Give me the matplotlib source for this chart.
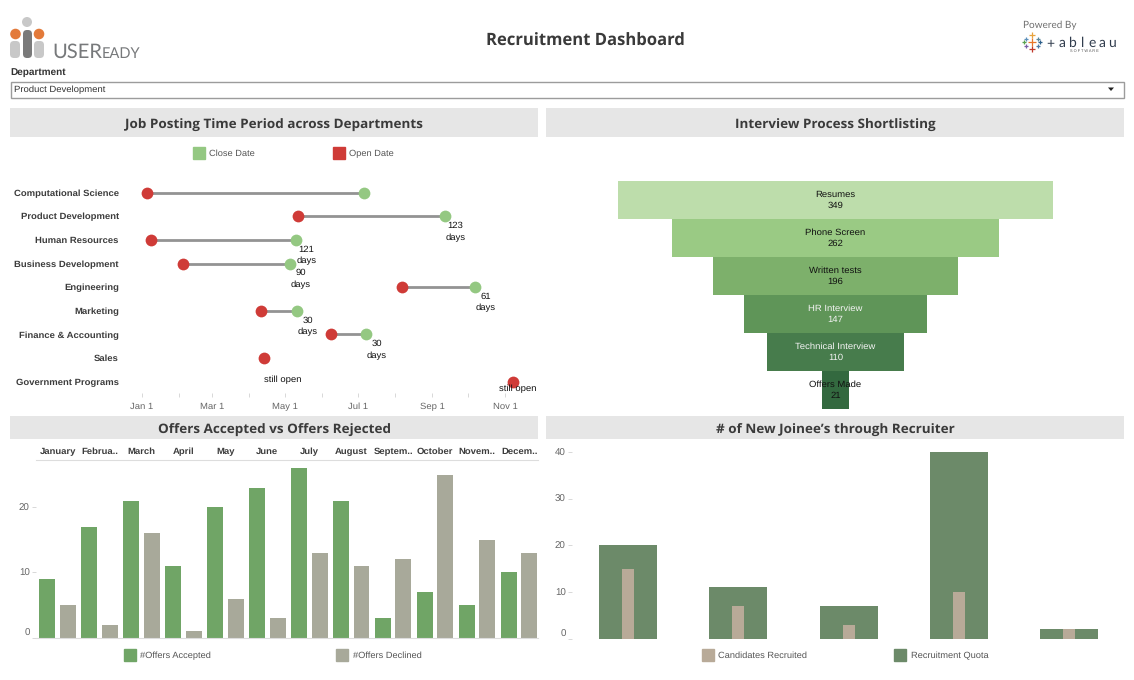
import matplotlib
matplotlib.use('Agg')
import matplotlib.pyplot as plt
from matplotlib.lines import Line2D
from matplotlib.patches import Rectangle, Circle, FancyBboxPatch, Polygon

plt.rcParams['font.family'] = ['Liberation Sans', 'DejaVu Sans']
plt.rcParams['font.size'] = 7
plt.rcParams['text.hinting'] = 'none'

W, H = 1134, 680

# job posting dates, as day of the year
departments = ['Computational Science', 'Product Development', 'Human Resources', 'Business Development',
               'Engineering', 'Marketing', 'Finance & Accounting', 'Sales', 'Government Programs']
open_day = [4, 131, 8, 34, 218, 100, 158, 102, 311]
close_day = [186, 254, 129, 124, 279, 130, 188, None, None]
duration_text = [None, '123\ndays', '121\ndays', '90\ndays', '61\ndays', '30\ndays', '30\ndays', None, None]
month_days = [0, 31, 59, 90, 120, 151, 181, 212, 243, 273, 304]
month_labels = ['Jan 1', '', 'Mar 1', '', 'May 1', '', 'Jul 1', '', 'Sep 1', '', 'Nov 1']

# funnel
stages = ['Resumes', 'Phone Screen', 'Written tests', 'HR Interview', 'Technical Interview', 'Offers Made']
stage_counts = [349, 262, 196, 147, 110, 21]
stage_colors = ['#BDDDAB', '#9ACA84', '#7DB06B', '#5F9558', '#477C4C', '#33693F']
stage_text = ['#111111', '#111111', '#111111', '#F4F4F4', '#F4F4F4', '#111111']

# offers
months = ['January', 'Februa..', 'March', 'April', 'May', 'June', 'July', 'August',
          'Septem..', 'October', 'Novem..', 'Decem..']
offers_accepted = [9, 17, 21, 11, 20, 23, 26, 21, 3, 7, 5, 10]
offers_declined = [5, 2, 16, 1, 6, 3, 13, 11, 12, 25, 15, 13]

# recruiters
recruitment_quota = [20, 11, 7, 40, 2]
candidates_recruited = [15, 7, 3, 10, 2]

RED = '#CF3B37'
GREEN = '#94C882'
TITLE_FONT = ['Open Sans', 'DejaVu Sans']


def px_axes(left, top, right, bottom, **kw):
    return fig.add_axes([left / W, 1 - bottom / H, (right - left) / W, (bottom - top) / H], **kw)


def square_legend(items, x, y, gap):
    handles = [Line2D([], [], ls='', marker='s', ms=9, color=c) for c, _ in items]
    labels = [t for _, t in items]
    fig.legend(handles, labels, loc='center left', bbox_to_anchor=(x / W, 1 - y / H), ncol=len(items),
               frameon=False, borderpad=0, borderaxespad=0, handlelength=1.4, handletextpad=0.45,
               columnspacing=gap, fontsize=6.7, labelcolor='#555555')


fig = plt.figure(figsize=(W / 100, H / 100), dpi=100, facecolor='white')

# page furniture (headers, filter box, logos)
page = px_axes(0, 0, W, H)
page.set_xlim(0, W)
page.set_ylim(H, 0)
page.axis('off')

for x0, y0, x1, y1, title in [(10, 108, 538, 137, 'Job Posting Time Period across Departments'),
                              (546, 108, 1124, 137, 'Interview Process Shortlisting'),
                              (10, 416, 538, 439, 'Offers Accepted vs Offers Rejected'),
                              (546, 416, 1124, 439, "# of New Joinee\u2019s through Recruiter")]:
    page.add_patch(Rectangle((x0, y0), x1 - x0, y1 - y0, color='#E6E6E6', lw=0))
    page.text((x0 + x1) / 2, (y0 + y1) / 2 + 2.5, title, ha='center', va='center', fontsize=9.7, fontweight='bold',
              family=TITLE_FONT, color='#3A3A3A')

page.text(585, 41, 'Recruitment Dashboard', ha='center', va='center', fontsize=12, fontweight='bold',
          family=TITLE_FONT, color='#3A3A3A')
page.text(10, 72, 'Department', ha='left', va='center', fontsize=7.2, fontweight='bold', color='#333333')
page.add_patch(Rectangle((11, 82), 1113, 16, fc='white', ec='#9C9C9C', lw=1))
page.text(14, 90, 'Product Development', ha='left', va='center', fontsize=6.8, color='#333333')
page.add_patch(Polygon([(1108, 87.5), (1114, 87.5), (1111, 91)], color='#222222', lw=0))

# useready logo
page.add_patch(Circle((27, 22), 5, color='#C8C8C8', lw=0))
page.add_patch(Circle((15.5, 34), 5.3, color='#E37A3A', lw=0))
page.add_patch(Circle((39, 34), 5.3, color='#E37A3A', lw=0))
for bx, bw, by, bc in [(10, 10, 41, '#C8C8C8'), (23, 9, 30, '#7A7A7A'), (34, 10, 41, '#C8C8C8')]:
    page.add_patch(FancyBboxPatch((bx + 4, by + 4), bw - 8, 58 - by - 8,
                                  boxstyle='round,pad=4', color=bc, lw=0))
page.text(52, 57.5, 'USER', ha='left', va='baseline', fontsize=14.5, family=['Lato', 'DejaVu Sans'], color='#77797B')
page.text(102, 57.5, 'EADY', ha='left', va='baseline', fontsize=10.5, family=['Lato', 'DejaVu Sans'], color='#77797B')

# tableau logo
page.text(1023, 25, 'Powered By', ha='left', va='center', fontsize=7.2, family=['Lato', 'DejaVu Sans'], color='#6F6F6F')
for cx, cy, cc, cs in [(1032, 42, '#E8762B', 36), (1026, 39, '#5B8FB9', 10), (1038, 39, '#59879B', 10),
                       (1032, 35, '#E8A33D', 14), (1032, 49, '#C0392B', 14), (1026, 46, '#7B5EA7', 10),
                       (1038, 46, '#4E79A7', 10), (1024, 42, '#59A14F', 8), (1040, 42, '#2D5F8B', 8)]:
    page.scatter([cx], [cy], marker='+', s=cs, color=cc, linewidths=0.9)
for lx, ch in zip([1050, 1062, 1072, 1083, 1092, 1102, 1112], 'tableau'):
    page.text(lx, 43, '+' if ch == 't' else ch, ha='center', va='center', fontsize=10,
              family=['Lato', 'DejaVu Sans'], color='#2F3B4C')
page.text(1084, 50.5, 'S O F T W A R E', ha='center', va='center', fontsize=2.8, color='#555555')

# job posting dumbbell chart
ax = px_axes(130, 181, 538, 393)
ax.set_xlim(-10, 331.7)
ax.set_ylim(8.48, -0.495)
for i, dept in enumerate(departments):
    if close_day[i] is not None:
        ax.plot([open_day[i], close_day[i]], [i, i], color='#939393', lw=2, zorder=1)
        ax.scatter(close_day[i], i, s=72, color=GREEN, lw=0, zorder=2)
        if duration_text[i]:
            ax.annotate(duration_text[i], (close_day[i], i), xytext=(7.5, -11), textcoords='offset points',
                        ha='center', va='center', fontsize=6.8, color='#111111', linespacing=1.5)
    ax.scatter(open_day[i], i, s=72, color=RED, lw=0, zorder=2, clip_on=False)
ax.annotate('still open', (open_day[7], 7), xytext=(14, -15.5), textcoords='offset points',
            ha='center', va='center', fontsize=6.8, color='#111111')
ax.annotate('still open', (open_day[8], 8), xytext=(3, -5), textcoords='offset points', ha='center',
            va='center', fontsize=6.8, color='#111111', annotation_clip=False, zorder=3)
ax.set_yticks(range(len(departments)))
ax.set_yticklabels(departments, fontweight='bold', color='#3C3C3C', fontsize=6.8)
ax.tick_params(axis='y', length=0, pad=8)
ax.set_xticks(month_days)
ax.set_xticklabels(month_labels, color='#666666', fontsize=6.8, va='baseline')
ax.tick_params(axis='x', length=3, width=0.7, color='#D8D8D8', pad=8.6)
for s in ax.spines.values():
    s.set_visible(False)
ax.patch.set_alpha(0)

square_legend([(GREEN, 'Close Date'), (RED, 'Open Date')], 192, 153.5, 8.3)

# funnel
ax = px_axes(618, 181, 1053, 409)
ax.set_xlim(-174.5, 174.5)
ax.set_ylim(5.5, -0.5)
ax.barh(range(len(stages)), stage_counts, left=[-c / 2 for c in stage_counts], height=0.98, color=stage_colors)
for i, stage in enumerate(stages):
    ax.text(0, i, f'{stage}\n{stage_counts[i]}', ha='center', va='center', fontsize=6.8,
            color=stage_text[i], linespacing=1.45)
ax.axis('off')

# offers chart
ax = px_axes(36, 460, 538, 637.7)
pos = list(range(len(months)))
ax.bar([p - 0.243 for p in pos], offers_accepted, width=0.38, color='#70A566')
ax.bar([p + 0.243 for p in pos], offers_declined, width=0.38, color='#A8A99A')
ax.set_xlim(-0.515, 11.45)
ax.set_ylim(0, 27.25)
ax.xaxis.tick_top()
ax.set_xticks(pos)
ax.set_xticklabels(months, fontweight='bold', color='#3C3C3C', fontsize=6.8, va='baseline')
ax.tick_params(axis='x', length=0, pad=4.5)
ax.set_yticks([0, 10, 20])
ax.tick_params(axis='y', length=3, width=0.7, color='#D8D8D8', labelcolor='#666666', labelsize=7, pad=1.5)
ax.get_yticklabels()[0].set_va('bottom')
for name, s in ax.spines.items():
    s.set_visible(name in ('top', 'bottom'))
    s.set_color('#DDDDDD')
    s.set_linewidth(0.8)
square_legend([('#70A566', '#Offers Accepted'), ('#A8A99A', '#Offers Declined')], 123, 655.5, 13.4)

# recruiter chart
ax = px_axes(572, 452, 1124, 638.7)
pos = list(range(len(recruitment_quota)))
ax.bar(pos, recruitment_quota, width=0.526, color='#6C8A69')
ax.bar(pos, candidates_recruited, width=0.109, color='#B8AA98')
ax.set_xlim(-0.508, 4.497)
ax.set_ylim(0, 40)
ax.set_xticks([])
ax.set_yticks([0, 10, 20, 30, 40])
ax.tick_params(axis='y', length=3, width=0.7, color='#D8D8D8', labelcolor='#666666', labelsize=7, pad=1.5)
ax.get_yticklabels()[0].set_va('bottom')
for s in ax.spines.values():
    s.set_visible(False)
square_legend([('#B8AA98', 'Candidates Recruited'), ('#6C8A69', 'Recruitment Quota')], 701, 655.5, 9.3)

fig.savefig('out.png', dpi=100)
